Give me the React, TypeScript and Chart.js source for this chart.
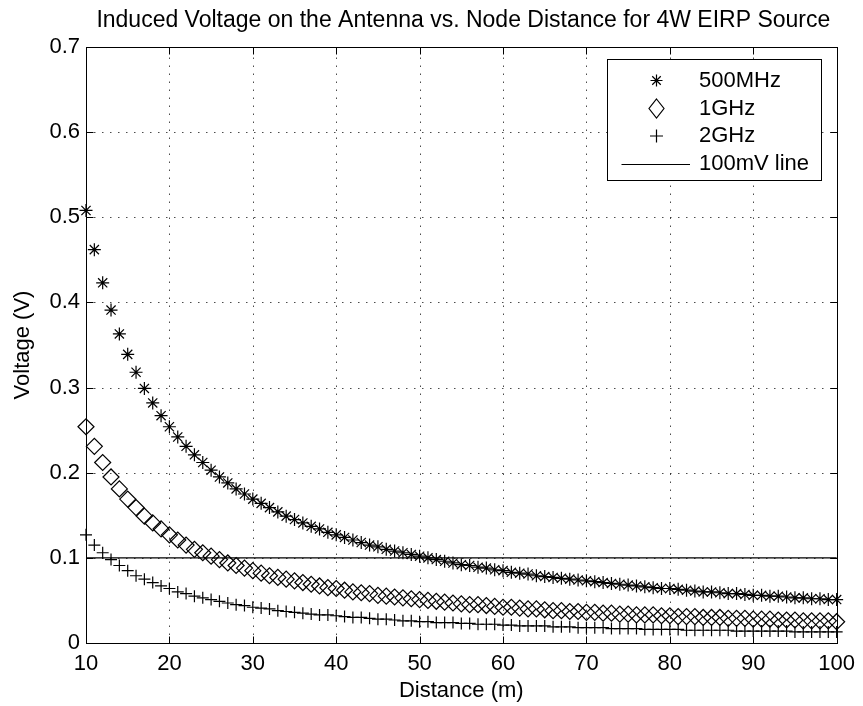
import React, { useEffect, useRef } from 'react';
import { Chart, registerables } from 'chart.js';

Chart.register(...registerables);

const titleText = 'Induced Voltage on the Antenna vs. Node Distance for 4W EIRP Source';
const xAxisTitle = 'Distance (m)';
const yAxisTitle = 'Voltage (V)';
const seriesLabels = ['500MHz', '1GHz', '2GHz', '100mV line'];

const distances = [
  10, 11, 12, 13, 14, 15, 16, 17, 18, 19, 20, 21, 22, 23, 24, 25, 26, 27, 28, 29,
  30, 31, 32, 33, 34, 35, 36, 37, 38, 39, 40, 41, 42, 43, 44, 45, 46, 47, 48, 49,
  50, 51, 52, 53, 54, 55, 56, 57, 58, 59, 60, 61, 62, 63, 64, 65, 66, 67, 68, 69,
  70, 71, 72, 73, 74, 75, 76, 77, 78, 79, 80, 81, 82, 83, 84, 85, 86, 87, 88, 89,
  90, 91, 92, 93, 94, 95, 96, 97, 98, 99, 100,
];

const v500MHz = [
  0.508, 0.462, 0.423, 0.391, 0.363, 0.339, 0.318, 0.299, 0.282, 0.267,
  0.254, 0.242, 0.231, 0.221, 0.212, 0.203, 0.195, 0.188, 0.181, 0.175,
  0.169, 0.164, 0.159, 0.154, 0.149, 0.145, 0.141, 0.137, 0.134, 0.130,
  0.127, 0.124, 0.121, 0.118, 0.115, 0.113, 0.110, 0.108, 0.106, 0.104,
  0.102, 0.100, 0.098, 0.096, 0.094, 0.092, 0.091, 0.089, 0.088, 0.086,
  0.085, 0.083, 0.082, 0.081, 0.079, 0.078, 0.077, 0.076, 0.075, 0.074,
  0.073, 0.072, 0.071, 0.070, 0.069, 0.068, 0.067, 0.066, 0.065, 0.064,
  0.064, 0.063, 0.062, 0.061, 0.060, 0.060, 0.059, 0.058, 0.058, 0.057,
  0.056, 0.056, 0.055, 0.055, 0.054, 0.053, 0.053, 0.052, 0.052, 0.051,
  0.051,
];

const v1GHz = [
  0.254, 0.231, 0.212, 0.195, 0.181, 0.169, 0.159, 0.149, 0.141, 0.134,
  0.127, 0.121, 0.115, 0.110, 0.106, 0.102, 0.098, 0.094, 0.091, 0.088,
  0.085, 0.082, 0.079, 0.077, 0.075, 0.073, 0.071, 0.069, 0.067, 0.065,
  0.064, 0.062, 0.060, 0.059, 0.058, 0.056, 0.055, 0.054, 0.053, 0.052,
  0.051, 0.050, 0.049, 0.048, 0.047, 0.046, 0.045, 0.045, 0.044, 0.043,
  0.042, 0.042, 0.041, 0.040, 0.040, 0.039, 0.038, 0.038, 0.037, 0.037,
  0.036, 0.036, 0.035, 0.035, 0.034, 0.034, 0.033, 0.033, 0.033, 0.032,
  0.032, 0.031, 0.031, 0.031, 0.030, 0.030, 0.030, 0.029, 0.029, 0.029,
  0.028, 0.028, 0.028, 0.027, 0.027, 0.027, 0.026, 0.026, 0.026, 0.026,
  0.025,
];

const v2GHz = [
  0.127, 0.115, 0.106, 0.098, 0.091, 0.085, 0.079, 0.075, 0.071, 0.067,
  0.064, 0.060, 0.058, 0.055, 0.053, 0.051, 0.049, 0.047, 0.045, 0.044,
  0.042, 0.041, 0.040, 0.038, 0.037, 0.036, 0.035, 0.034, 0.033, 0.033,
  0.032, 0.031, 0.030, 0.030, 0.029, 0.028, 0.028, 0.027, 0.026, 0.026,
  0.025, 0.025, 0.024, 0.024, 0.024, 0.023, 0.023, 0.022, 0.022, 0.022,
  0.021, 0.021, 0.020, 0.020, 0.020, 0.020, 0.019, 0.019, 0.019, 0.018,
  0.018, 0.018, 0.018, 0.017, 0.017, 0.017, 0.017, 0.016, 0.016, 0.016,
  0.016, 0.016, 0.015, 0.015, 0.015, 0.015, 0.015, 0.015, 0.014, 0.014,
  0.014, 0.014, 0.014, 0.014, 0.014, 0.013, 0.013, 0.013, 0.013, 0.013,
  0.013,
];

const refLineX = [10, 100];
const refLineY = [0.1, 0.1];

const xTicks = [10, 20, 30, 40, 50, 60, 70, 80, 90, 100];
const yTicks = [0, 0.1, 0.2, 0.3, 0.4, 0.5, 0.6, 0.7];

const FONT_FAMILY = '"Liberation Sans", Arial, Helvetica, sans-serif';
const FONT_SIZE = 22;
const TITLE_SIZE = 23;

function drawStar(ctx: CanvasRenderingContext2D, x: number, y: number, r: number) {
  const d = r * Math.SQRT1_2;
  ctx.beginPath();
  ctx.moveTo(x - r, y); ctx.lineTo(x + r, y);
  ctx.moveTo(x, y - r); ctx.lineTo(x, y + r);
  ctx.moveTo(x - d, y - d); ctx.lineTo(x + d, y + d);
  ctx.moveTo(x - d, y + d); ctx.lineTo(x + d, y - d);
  ctx.stroke();
}
function drawDiamond(ctx: CanvasRenderingContext2D, x: number, y: number, w: number, h: number) {
  ctx.beginPath();
  ctx.moveTo(x, y - h); ctx.lineTo(x + w, y); ctx.lineTo(x, y + h); ctx.lineTo(x - w, y);
  ctx.closePath();
  ctx.stroke();
}
function drawPlus(ctx: CanvasRenderingContext2D, x: number, y: number, r: number) {
  ctx.beginPath();
  ctx.moveTo(x - r, y); ctx.lineTo(x + r, y);
  ctx.moveTo(x, y - r); ctx.lineTo(x, y + r);
  ctx.stroke();
}

const gridPlugin = {
  id: 'matlabGrid',
  beforeDatasetsDraw(chart: any) {
    const { ctx, chartArea: a, scales } = chart;
    ctx.save();
    ctx.strokeStyle = 'rgba(0,0,0,0.7)';
    ctx.lineWidth = 1;
    ctx.setLineDash([1.5, 6.5]);
    for (const v of xTicks) {
      const px = Math.round(scales.x.getPixelForValue(v)) + 0.5;
      ctx.beginPath();
      ctx.moveTo(px, a.bottom);
      ctx.lineTo(px, a.top);
      ctx.stroke();
    }
    for (const v of yTicks) {
      const py = Math.round(scales.y.getPixelForValue(v)) + 0.5;
      ctx.beginPath();
      ctx.moveTo(a.left, py);
      ctx.lineTo(a.right, py);
      ctx.stroke();
    }
    ctx.restore();
  },
  afterDraw(chart: any) {
    const { ctx, chartArea: a, scales } = chart;
    ctx.save();
    ctx.setLineDash([]);
    ctx.strokeStyle = '#000';
    ctx.lineWidth = 1;
    const L = Math.round(a.left) + 0.5;
    const R = Math.round(a.right) + 0.5;
    const T = Math.round(a.top) + 0.5;
    const B = Math.round(a.bottom) + 0.5;
    ctx.strokeRect(L, T, R - L, B - T);
    const tl = 7;
    ctx.beginPath();
    for (const v of xTicks) {
      const px = Math.round(scales.x.getPixelForValue(v)) + 0.5;
      ctx.moveTo(px, B); ctx.lineTo(px, B - tl);
      ctx.moveTo(px, T); ctx.lineTo(px, T + tl);
    }
    for (const v of yTicks) {
      const py = Math.round(scales.y.getPixelForValue(v)) + 0.5;
      ctx.moveTo(L, py); ctx.lineTo(L + tl, py);
      ctx.moveTo(R, py); ctx.lineTo(R - tl, py);
    }
    ctx.stroke();

    // title
    ctx.fillStyle = '#000';
    ctx.font = `${TITLE_SIZE}px ${FONT_FAMILY}`;
    ctx.textAlign = 'center';
    ctx.textBaseline = 'middle';
    ctx.fillText(titleText, (a.left + a.right) / 2 + 2, 21);

    // legend
    ctx.font = `${FONT_SIZE}px ${FONT_FAMILY}`;
    const boxW = 214;
    const boxH = 121;
    const bx = Math.round(a.right) - 16 - boxW;
    const by = Math.round(a.top) + 12;
    ctx.fillStyle = '#fff';
    ctx.fillRect(bx, by, boxW, boxH);
    ctx.strokeStyle = '#000';
    ctx.strokeRect(bx + 0.5, by + 0.5, boxW, boxH);
    const rows = [21.5, 49.5, 77, 105];
    const mx = bx + 49.5;
    ctx.lineWidth = 1.2;
    drawStar(ctx, mx, by + rows[0], 6);
    drawDiamond(ctx, mx, by + rows[1], 7.5, 9.5);
    drawPlus(ctx, mx, by + rows[2], 6.5);
    ctx.lineWidth = 1;
    ctx.beginPath();
    ctx.moveTo(bx + 14.5, Math.round(by + rows[3]) + 0.5);
    ctx.lineTo(bx + 83, Math.round(by + rows[3]) + 0.5);
    ctx.stroke();
    ctx.fillStyle = '#000';
    ctx.textAlign = 'left';
    ctx.textBaseline = 'middle';
    seriesLabels.forEach((lab, i) => {
      ctx.fillText(lab, bx + 92, by + rows[i]);
    });
    ctx.restore();
  },
};

export default function App() {
  const canvasRef = useRef<HTMLCanvasElement | null>(null);

  useEffect(() => {
    document.body.style.margin = '0';
    const canvas = canvasRef.current;
    if (!canvas) return;

    const toPoints = (ys: number[]) => distances.map((d, i) => ({ x: d, y: ys[i] }));
    const markerBase = {
      showLine: false,
      borderColor: '#000',
      backgroundColor: 'rgba(0,0,0,0)',
      pointBorderColor: '#000',
      pointBackgroundColor: 'rgba(0,0,0,0)',
      pointBorderWidth: 1.2,
      clip: false as any,
    };

    const chart = new Chart(canvas, {
      type: 'scatter',
      data: {
        datasets: [
          { ...markerBase, label: seriesLabels[0], data: toPoints(v500MHz), pointStyle: 'star', pointRadius: 6.5 },
          { ...markerBase, label: seriesLabels[1], data: toPoints(v1GHz), pointStyle: 'rectRot', pointRadius: 8 },
          { ...markerBase, label: seriesLabels[2], data: toPoints(v2GHz), pointStyle: 'cross', pointRadius: 6 },
          {
            label: seriesLabels[3],
            data: refLineX.map((x, i) => ({ x, y: refLineY[i] })),
            showLine: true,
            borderColor: '#000',
            borderWidth: 1.2,
            pointRadius: 0,
            clip: false as any,
          },
        ],
      },
      options: {
        animation: false,
        responsive: false,
        devicePixelRatio: 1,
        events: [],
        layout: { padding: { top: 47, right: 21, left: 0, bottom: 0 } },
        plugins: {
          legend: { display: false },
          title: { display: false },
          tooltip: { enabled: false },
        },
        scales: {
          x: {
            type: 'linear',
            min: 10,
            max: 100,
            afterFit: (s: any) => { s.height = 63; },
            afterBuildTicks: (s: any) => { s.ticks = xTicks.map((v) => ({ value: v })); },
            grid: { display: false, drawTicks: false },
            border: { display: false },
            ticks: {
              color: '#000',
              padding: 8,
              maxRotation: 0,
              autoSkip: false,
              font: { family: FONT_FAMILY, size: FONT_SIZE },
              callback: (v: any) => String(v),
            },
            title: {
              display: true,
              text: xAxisTitle,
              color: '#000',
              padding: { top: 0, bottom: 2 },
              font: { family: FONT_FAMILY, size: FONT_SIZE },
            },
          },
          y: {
            type: 'linear',
            min: 0,
            max: 0.7,
            afterFit: (s: any) => { s.width = 86; },
            afterBuildTicks: (s: any) => { s.ticks = yTicks.map((v) => ({ value: v })); },
            grid: { display: false, drawTicks: false },
            border: { display: false },
            ticks: {
              color: '#000',
              padding: 6,
              autoSkip: false,
              font: { family: FONT_FAMILY, size: FONT_SIZE },
              callback: (v: any) => (Number(v) === 0 ? '0' : Number(v).toFixed(1)),
            },
            title: {
              display: true,
              text: yAxisTitle,
              color: '#000',
              padding: { top: 10, bottom: 0 },
              font: { family: FONT_FAMILY, size: FONT_SIZE },
            },
          },
        },
      },
      plugins: [gridPlugin],
    });

    return () => chart.destroy();
  }, []);

  return (
    <div style={{ position: 'absolute', left: 0, top: 0, width: 863, height: 706, background: '#fff' }}>
      <canvas ref={canvasRef} width={863} height={706} style={{ display: 'block' }} />
    </div>
  );
}
